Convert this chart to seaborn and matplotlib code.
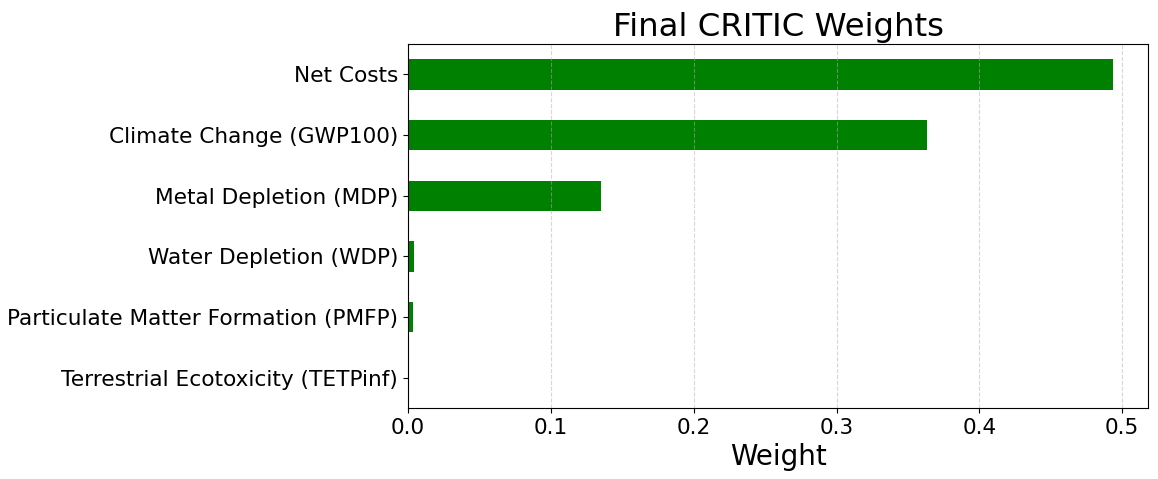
import matplotlib
matplotlib.use("Agg")
import matplotlib.pyplot as plt
import seaborn as sns
import pandas as pd

criteria = [
    "Net Costs",
    "Climate Change (GWP100)",
    "Metal Depletion (MDP)",
    "Water Depletion (WDP)",
    "Particulate Matter Formation (PMFP)",
    "Terrestrial Ecotoxicity (TETPinf)",
]
weights = [0.4934, 0.3636, 0.1351, 0.0043, 0.0034, 0.0]
xticks = [0.0, 0.1, 0.2, 0.3, 0.4, 0.5]
xtick_labels = ["0.0", "0.1", "0.2", "0.3", "0.4", "0.5"]

df = pd.DataFrame({"Criterion": criteria, "Weight": weights})

fig = plt.figure(figsize=(11.58, 4.79), dpi=100)
ax = fig.add_axes([0.3523, 0.1482, 0.6391, 0.7599])

sns.barplot(data=df, x="Weight", y="Criterion", orient="h", color="green",
            saturation=1, width=0.5, ax=ax)

ax.set_title("Final CRITIC Weights", fontsize=23.3)
ax.set_xlabel("Weight", fontsize=20)
ax.set_ylabel("")
ax.tick_params(axis="both", labelsize=15.6)
ax.grid(axis="x", linestyle="--", alpha=0.5)
ax.set_axisbelow("line")
ax.set_xlim(0, max(weights) * 1.05)
ax.set_xticks(xticks)
ax.set_xticklabels(xtick_labels)

fig.savefig("out.png", dpi=100)
